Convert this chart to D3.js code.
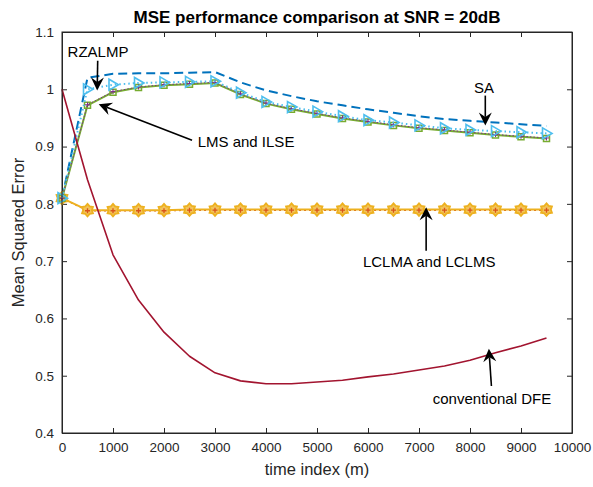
<!DOCTYPE html>
<html>
<head>
<meta charset="utf-8">
<script src="https://cdn.jsdelivr.net/npm/d3@7"></script>
<style>
  body { margin: 0; background: #fff; }
  svg { display: block; font-family: "Liberation Sans", Arial, Helvetica, sans-serif; }
</style>
</head>
<body>
<svg id="chart" width="593" height="487"></svg>
<script>
// Time index samples (m)
const timeIndex = [0, 500, 1000, 1500, 2000, 2500, 3000, 3500, 4000, 4500,
                   5000, 5500, 6000, 6500, 7000, 7500, 8000, 8500, 9000, 9500];

// MSE for each equalizer
const mseSA     = [0.81, 1.020, 1.027, 1.028, 1.028, 1.029, 1.030, 1.012, 0.998, 0.988,
                   0.979, 0.972, 0.965, 0.959, 0.953, 0.948, 0.945, 0.942, 0.939, 0.936];
const mseRZALMP = [0.81, 1.000, 1.008, 1.011, 1.012, 1.013, 1.014, 0.994, 0.978, 0.969,
                   0.961, 0.953, 0.946, 0.942, 0.937, 0.932, 0.929, 0.927, 0.925, 0.923];
const mseLMS    = [0.81, 0.972, 0.995, 1.003, 1.007, 1.009, 1.011, 0.991, 0.975, 0.965,
                   0.957, 0.949, 0.943, 0.937, 0.932, 0.928, 0.924, 0.920, 0.917, 0.914];
const mseILSE   = [0.81, 0.973, 0.996, 1.004, 1.008, 1.010, 1.012, 0.992, 0.976, 0.966,
                   0.958, 0.950, 0.944, 0.938, 0.933, 0.929, 0.925, 0.921, 0.918, 0.915];
const mseLCLMA  = [0.81, 0.789, 0.789, 0.789, 0.789, 0.790, 0.790, 0.790, 0.790, 0.790,
                   0.790, 0.790, 0.790, 0.790, 0.790, 0.790, 0.790, 0.790, 0.790, 0.790];
const mseLCLMS  = [0.81, 0.788, 0.788, 0.788, 0.788, 0.789, 0.789, 0.789, 0.789, 0.789,
                   0.789, 0.789, 0.789, 0.789, 0.789, 0.789, 0.789, 0.789, 0.789, 0.789];
const mseDFE    = [1.000, 0.842, 0.711, 0.632, 0.576, 0.534, 0.505, 0.491, 0.486, 0.486,
                   0.489, 0.492, 0.498, 0.503, 0.510, 0.517, 0.527, 0.540, 0.552, 0.566];

// Axis ticks
const xTicks = [0, 1000, 2000, 3000, 4000, 5000, 6000, 7000, 8000, 9000, 10000];
const yTicks = [0.4, 0.5, 0.6, 0.7, 0.8, 0.9, 1.0, 1.1];

// Callouts: label, arrow tip and tail, text start point (all in data units)
const callouts = [
  { label: "RZALMP",            tip: [690, 0.998],  tail: [700, 1.050],  text: [110, 1.064] },
  { label: "LMS and ILSE",      tip: [720, 0.974],  tail: [2550, 0.911], text: [2660, 0.906] },
  { label: "SA",                tip: [8300, 0.937], tail: [8300, 0.989], text: [8080, 1.000] },
  { label: "LCLMA and LCLMS",   tip: [7140, 0.794], tail: [7140, 0.718], text: [5900, 0.697] },
  { label: "conventional DFE",  tip: [8370, 0.547], tail: [8420, 0.482], text: [7270, 0.458] }
];

const svg = d3.select("#chart");
const margin = { left: 62, right: 21, top: 32, bottom: 54 };
const W = 593, H = 487;
const x = d3.scaleLinear().domain([0, 10000]).range([margin.left, W - margin.right]);
const y = d3.scaleLinear().domain([0.4, 1.1]).range([H - margin.bottom, margin.top]);

const axisColor = "#262626";
const tickLen = 5;

// Axes (inward ticks on all four sides)
const xAxisB = d3.axisBottom(x).tickValues(xTicks).tickSizeInner(-tickLen).tickSizeOuter(0).tickPadding(9).tickFormat(d3.format("d"));
const xAxisT = d3.axisTop(x).tickValues(xTicks).tickSizeInner(-tickLen).tickSizeOuter(0).tickFormat("");
const yAxisL = d3.axisLeft(y).tickValues(yTicks).tickSizeInner(-tickLen).tickSizeOuter(0).tickPadding(8).tickFormat(d => d3.format("")(+d.toFixed(1)));
const yAxisR = d3.axisRight(y).tickValues(yTicks).tickSizeInner(-tickLen).tickSizeOuter(0).tickFormat("");

function styleAxis(g) {
  g.selectAll("path.domain").attr("stroke", axisColor).attr("stroke-width", 1);
  g.selectAll(".tick line").attr("stroke", axisColor).attr("stroke-width", 1);
  g.selectAll(".tick text").attr("fill", axisColor).attr("font-size", 13.5)
    .attr("font-family", "Liberation Sans, Arial, sans-serif");
}
svg.append("g").attr("transform", `translate(0,${y(0.4)})`).call(xAxisB).call(styleAxis);
svg.append("g").attr("transform", `translate(0,${y(1.1)})`).call(xAxisT).call(styleAxis);
svg.append("g").attr("transform", `translate(${x(0)},0)`).call(yAxisL).call(styleAxis);
svg.append("g").attr("transform", `translate(${x(10000)},0)`).call(yAxisR).call(styleAxis);

// Series
const plot = svg.append("g");
const line = d3.line().x((d, i) => x(timeIndex[i])).y(d => y(d));

function drawLine(values, color, width, dash) {
  plot.append("path").datum(values)
    .attr("d", line).attr("fill", "none")
    .attr("stroke", color).attr("stroke-width", width)
    .attr("stroke-dasharray", dash || null)
    .attr("stroke-linejoin", "round");
}
function drawMarkers(values, pathFn, color, width, fill) {
  plot.append("g").selectAll("path").data(values).join("path")
    .attr("transform", (d, i) => `translate(${x(timeIndex[i])},${y(d)})`)
    .attr("d", pathFn)
    .attr("fill", fill || "none")
    .attr("stroke", color).attr("stroke-width", width)
    .attr("stroke-linejoin", "miter");
}

const triRight = () => "M5.5,0L-4,-5.5L-4,5.5Z";
const square = () => "M-3,-3H3V3H-3Z";
const plus = () => "M-2.5,0H2.5M0,-2.5V2.5";
const asterisk = () => "M-2.5,0H2.5M0,-2.5V2.5M-1.8,-1.8L1.8,1.8M-1.8,1.8L1.8,-1.8";
const hexagram = () => {
  const pts = [];
  for (let k = 0; k < 12; k++) {
    const r = k % 2 === 0 ? 6.3 : 4.3;
    const a = -Math.PI / 2 + k * Math.PI / 6;
    pts.push([r * Math.cos(a), r * Math.sin(a)]);
  }
  return "M" + pts.map(p => p[0].toFixed(2) + "," + p[1].toFixed(2)).join("L") + "Z";
};

// SA
drawLine(mseSA, "#0072BD", 2, "9,5");
// LCLMA and LCLMS
drawLine(mseLCLMS, "#D95319", 1.5, "2,3");
drawLine(mseLCLMA, "#EDB120", 2);
drawMarkers(mseLCLMA, hexagram, "#EDB120", 1.8, "#F2C35A");
drawMarkers(mseLCLMS, plus, "#D95319", 1.3);
// LMS and ILSE
drawLine(mseLMS, "#77AC30", 2);
drawMarkers(mseLMS, square, "#77AC30", 1.5);
drawLine(mseILSE, "#7E2F8E", 1, "1.5,2");
drawMarkers(mseILSE, plus, "#7E2F8E", 1);
// RZALMP
drawLine(mseRZALMP, "#4DBEEE", 2, "1.5,3");
drawMarkers(mseRZALMP, triRight, "#4DBEEE", 1.6);
// Conventional DFE
drawLine(mseDFE, "#A2142F", 1.6);

// Box edges on top of marks
svg.append("rect").attr("x", x(0)).attr("y", y(1.1))
  .attr("width", x(10000) - x(0)).attr("height", y(0.4) - y(1.1))
  .attr("fill", "none").attr("stroke", axisColor).attr("stroke-width", 1);

// Callout arrows
const ann = svg.append("g");
callouts.forEach(c => {
  const x1 = x(c.tail[0]), y1 = y(c.tail[1]);
  const x2 = x(c.tip[0]), y2 = y(c.tip[1]);
  const ang = Math.atan2(y2 - y1, x2 - x1);
  const hl = 13, hw = 6.5, notch = 4.5;
  const ux = Math.cos(ang), uy = Math.sin(ang);
  const bx = x2 - ux * hl, by = y2 - uy * hl;
  const nx = x2 - ux * (hl - notch), ny = y2 - uy * (hl - notch);
  ann.append("line").attr("x1", x1).attr("y1", y1).attr("x2", nx).attr("y2", ny)
    .attr("stroke", "#000").attr("stroke-width", 1.6);
  ann.append("path")
    .attr("d", `M${x2},${y2}L${bx - uy * hw},${by + ux * hw}L${nx},${ny}L${bx + uy * hw},${by - ux * hw}Z`)
    .attr("fill", "#000");
  ann.append("text").attr("x", x(c.text[0])).attr("y", y(c.text[1]))
    .attr("font-size", 15).attr("fill", "#000")
    .attr("dominant-baseline", "middle")
    .text(c.label);
});

// Title and axis labels
svg.append("text").attr("x", (x(0) + x(10000)) / 2).attr("y", 23)
  .attr("text-anchor", "middle").attr("font-size", 17).attr("font-weight", "bold")
  .attr("fill", "#000").text("MSE performance comparison at SNR = 20dB");
svg.append("text").attr("x", (x(0) + x(10000)) / 2).attr("y", 475)
  .attr("text-anchor", "middle").attr("font-size", 16.5).attr("fill", axisColor)
  .text("time index (m)");
svg.append("text")
  .attr("transform", `translate(24,${(y(0.4) + y(1.1)) / 2}) rotate(-90)`)
  .attr("text-anchor", "middle").attr("font-size", 16.5).attr("fill", axisColor)
  .text("Mean Squared Error");
</script>
</body>
</html>
